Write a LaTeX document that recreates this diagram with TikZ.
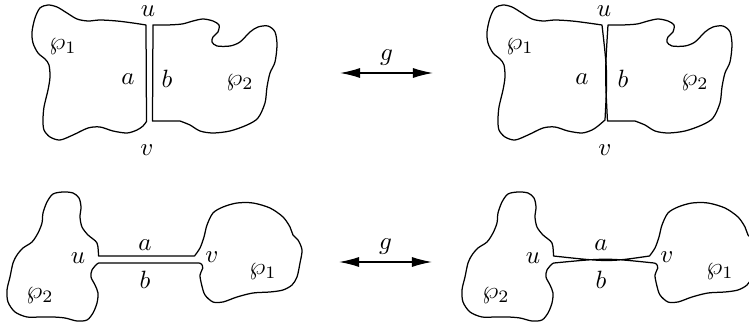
\documentclass[tikz,border=0pt]{standalone}
\usepackage{amsmath,amsfonts,amssymb}
\usepackage{tikz}
\usetikzlibrary{arrows.meta}
\tikzstyle{umriss} = [draw, line join=round]
\tikzstyle{marke} = [inner sep=0pt]

% linkes Stueck (wp_1) oben, #3 = Schnitt a
\newcommand{\stueckLinks}[3]{%
  \draw[umriss] plot[smooth] coordinates {#1 (133,23) (117,21) (100,20) (88,21) (77,19)
    (67,13) (57,7) (48,5) (40,8) (35,18) (32,32) (33,43) (38,53) (45,59) (49,65) (50,77)
    (48,90) (44,107) (43,120) (44,130) (50,137) (60,140) (73,135) (88,128) (100,127)
    (113,131) (127,133) (137,130) (143,126) #2} #3 -- cycle;}
% rechtes Stueck (wp_2) oben, #1 = Schnitt b
\newcommand{\stueckRechts}[1]{%
  \draw[umriss] (152.5,121) -- plot[smooth] coordinates {(180,121) (190,125) (200,131)
    (213,133) (230,131) (247,125) (258,118) (265,103) (267,87) (270,73) (275,62) (277,45)
    (275,32) (268,26) (258,27) (250,32) (240,42) (230,46) (217,46) (212,42) (213,37)
    (218,32) (219,25) (213,21) (203,19) (193,21) (182,24) (167,25) (153,25)} #1 -- cycle;}
% unten: wp_2 links, wp_1 rechts, #1 = Kante b, #2 = Kante a
\newcommand{\hantel}[2]{%
  \draw[umriss] plot[smooth] coordinates {(98.5,256) (97,243) (88,235) (82,227) (80,217)
    (81,207) (79,198) (73,193) (63,192) (53,194) (47,202) (43,213) (42,223) (38,233)
    (32,242) (23,248) (17,255) (13,263) (10,277) (7,290) (8,302) (15,312) (27,317)
    (40,317) (53,317) (65,318) (77,321) (87,320) (93,313) (97,303) (98,293) (95,285)
    (91,277) (92,270) (97,264) (99,263)} #1
    -- plot[smooth] coordinates {(199,263) (201.7,264.3) (202.7,268.3) (200,275)
    (201.7,285) (205,295) (213,302) (223,302) (237,297) (253,293) (270,292) (283,290)
    (292,285) (297,277) (300,263) (302,250) (298,240) (293,235) (290,227) (283,217)
    (270,208) (253,203) (237,203) (223,207) (213,213) (207,225) (204,237) (200,248)
    (194.5,256)} #2 -- cycle;}

\begin{document}
\begin{tikzpicture}[x=0.4pt,y=-0.4pt,line width=0.5pt,auto,>={Latex[length=8pt,width=4pt]}]
  \useasboundingbox (0,0) rectangle (749,326);

  % oben links
  \stueckLinks{(146,25)}{(146.5,121.5)}{}
  \stueckRechts{}
  \node[marke] (u_eins) at (148,11) {$u$};
  \node[marke] (v_eins) at (147,150) {$v$};
  \node[marke] (a_eins) at (128,79) {$a$};
  \node[marke] (b_eins) at (167,79) {$b$};
  \node[marke] (P_eins) at (63,47) {$\wp_1$};
  \node[marke] (Q_eins) at (240,83) {$\wp_2$};

  % oben rechts
  \begin{scope}[shift={(455,0)}]
    \stueckLinks{(147,25)}{(150,120)}{.. controls (152.5,73) .. (147,25)}
    \stueckRechts{.. controls (150,73) .. (152.5,121)}
    \node[marke] (u_zwei) at (149,11) {$u$};
    \node[marke] (v_zwei) at (150,150) {$v$};
    \node[marke] (a_zwei) at (127,79) {$a$};
    \node[marke] (b_zwei) at (168,79) {$b$};
    \node[marke] (P_zwei) at (65,47) {$\wp_1$};
    \node[marke] (Q_zwei) at (240,83) {$\wp_2$};
  \end{scope}

  % unten links
  \hantel{-- (199,263)}{}
  \node[marke] (u_drei) at (78,258) {$u$};
  \node[marke] (v_drei) at (212,257) {$v$};
  \node[marke] (a_drei) at (145,245) {$a$};
  \node[marke] (b_drei) at (145,280) {$b$};
  \node[marke] (P_drei) at (263,272) {$\wp_1$};
  \node[marke] (Q_drei) at (40,296) {$\wp_2$};

  % unten rechts
  \begin{scope}[shift={(455,0)}]
    \hantel{.. controls (151,258) .. (199,263)}{.. controls (153.5,262) .. (98.5,256)}
    \node[marke] (u_vier) at (78,258) {$u$};
    \node[marke] (v_vier) at (212,257) {$v$};
    \node[marke] (a_vier) at (146,245) {$a$};
    \node[marke] (b_vier) at (146,280) {$b$};
    \node[marke] (P_vier) at (265,272) {$\wp_1$};
    \node[marke] (Q_vier) at (41,296) {$\wp_2$};
  \end{scope}

  % g
  \coordinate (L_oben) at (340,73);
  \coordinate (R_oben) at (433,73);
  \coordinate (L_unten) at (339,262);
  \coordinate (R_unten) at (432,262);
  \path (L_oben) edge[<->] node[inner sep=3pt] {$g$} (R_oben);
  \path (L_unten) edge[<->] node[inner sep=3pt] {$g$} (R_unten);
\end{tikzpicture}
\end{document}
